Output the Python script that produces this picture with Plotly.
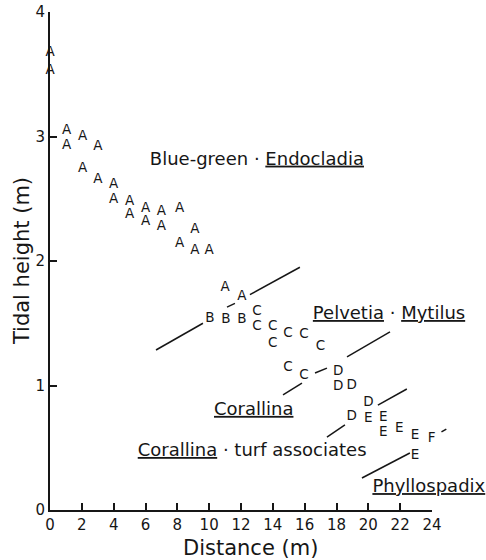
import plotly.graph_objects as go

# ---- data ----
A_x = [0.0, 0.0, 1.05, 1.05, 2.05, 3.0, 2.05, 3.0, 4.0, 4.0, 5.0, 5.0, 6.0, 6.0,
       7.0, 7.0, 8.15, 8.15, 9.1, 9.1, 10.0, 11.0, 12.05]
A_y = [3.67, 3.53, 3.05, 2.93, 3.00, 2.92, 2.74, 2.65, 2.61, 2.49, 2.48, 2.37, 2.42, 2.32,
       2.40, 2.28, 2.42, 2.14, 2.25, 2.08, 2.08, 1.79, 1.71]
B_x = [10.05, 11.05, 12.06]
B_y = [1.54, 1.53, 1.53]
C_x = [13.0, 13.0, 14.0, 14.0, 14.95, 15.95, 17.0, 14.95, 15.95]
C_y = [1.59, 1.47, 1.47, 1.34, 1.42, 1.41, 1.31, 1.14, 1.08]
D_x = [18.1, 18.1, 18.95, 20.0, 18.95]
D_y = [1.11, 0.99, 1.00, 0.86, 0.75]
E_x = [20.0, 20.94, 20.94, 21.94, 22.93, 22.93]
E_y = [0.73, 0.74, 0.62, 0.65, 0.60, 0.44]
F_x = [23.97]
F_y = [0.57]

# zone boundary lines (None = gap where a letter interrupts the line)
bound1_x = [6.66, 9.61, None, 11.12, 11.62, None, 12.56, 15.70]
bound1_y = [1.285, 1.50, None, 1.63, 1.66, None, 1.73, 1.95]
bound2_x = [14.64, 15.83, None, 16.65, 17.40, None, 18.66, 21.36]
bound2_y = [0.924, 1.02, None, 1.10, 1.14, None, 1.23, 1.43]
bound3_x = [17.40, 18.53, None, 20.60, 22.42]
bound3_y = [0.586, 0.683, None, 0.843, 0.972]
bound4_x = [19.60, 22.61]
bound4_y = [0.257, 0.458]
# short boundary dash right of the F (beyond the end of the x axis)
dash_x = [24.5, 24.9]
dash_y = [0.62, 0.65]

zone_labels = ["Blue-green · <u>Endocladia</u>",
               "<u>Pelvetia</u> · <u>Mytilus</u>",
               "<u>Corallina</u>",
               "<u>Corallina</u> · turf associates",
               "<u>Phyllospadix</u>"]
label_x = [13.0, 21.3, 12.8, 12.7, 23.8]
label_y = [2.81, 1.57, 0.80, 0.47, 0.18]

x_ticks = list(range(0, 25, 2))
y_ticks = [0, 1, 2, 3, 4]
X_RANGE = [0, 24]
Y_RANGE = [0, 4]

INK = "#161616"
FONT = "DejaVu Sans"
W, H = 486, 560
M = dict(l=50, r=54, t=12, b=50)

fig = go.Figure()

for bx, by in [(bound1_x, bound1_y), (bound2_x, bound2_y),
               (bound3_x, bound3_y), (bound4_x, bound4_y)]:
    fig.add_trace(go.Scatter(x=bx, y=by, mode="lines",
                             line=dict(color=INK, width=1.5),
                             hoverinfo="skip", showlegend=False))

for letter, lx, ly in [("A", A_x, A_y), ("B", B_x, B_y), ("C", C_x, C_y),
                       ("D", D_x, D_y), ("E", E_x, E_y), ("F", F_x, F_y)]:
    fig.add_trace(go.Scatter(x=lx, y=ly, mode="text", text=[letter] * len(lx),
                             textposition="middle center",
                             textfont=dict(family=FONT, size=13.5, color=INK),
                             cliponaxis=False, showlegend=False, hoverinfo="skip"))

fig.add_trace(go.Scatter(x=label_x, y=label_y, mode="text", text=zone_labels,
                         textposition="middle center",
                         textfont=dict(family=FONT, size=18, color=INK),
                         cliponaxis=False, showlegend=False, hoverinfo="skip"))

axis_common = dict(showgrid=False, zeroline=False, showline=True, linecolor=INK,
                   linewidth=2, ticks="inside", ticklen=7, tickwidth=2,
                   tickcolor=INK, tickfont=dict(family=FONT, size=15, color=INK),
                   mirror=False, automargin=False)

fig.update_xaxes(range=X_RANGE, tickvals=x_ticks, **axis_common)
fig.update_yaxes(range=Y_RANGE, tickvals=y_ticks, **axis_common)

# the dash lies past the x-axis end, so draw it as an arrow-less annotation line
plot_w = W - M["l"] - M["r"]
plot_h = H - M["t"] - M["b"]
px_per_x = plot_w / (X_RANGE[1] - X_RANGE[0])
px_per_y = plot_h / (Y_RANGE[1] - Y_RANGE[0])
fig.add_annotation(x=(dash_x[1] - X_RANGE[0]) / (X_RANGE[1] - X_RANGE[0]), xref="paper",
                   y=dash_y[1], yref="y", text="", showarrow=True, arrowhead=0,
                   arrowwidth=1.5, arrowcolor=INK, standoff=0, startstandoff=0,
                   ax=-(dash_x[1] - dash_x[0]) * px_per_x,
                   ay=(dash_y[1] - dash_y[0]) * px_per_y)

fig.add_annotation(text="Distance (m)", xref="paper", yref="paper",
                   x=0.526, y=-0.076, xanchor="center", yanchor="middle",
                   showarrow=False, font=dict(family=FONT, size=21, color=INK))
fig.add_annotation(text="Tidal height (m)", xref="paper", yref="paper",
                   x=-0.073, y=0.5, xanchor="center", yanchor="middle",
                   textangle=-90, showarrow=False,
                   font=dict(family=FONT, size=21, color=INK))

fig.update_layout(width=W, height=H,
                  margin=dict(**M, autoexpand=False),
                  paper_bgcolor="white", plot_bgcolor="white")

fig.write_html("out.html", config={"displayModeBar": False},
               post_script="document.body.style.margin='0px';"
                           "document.body.style.overflow='hidden';")
